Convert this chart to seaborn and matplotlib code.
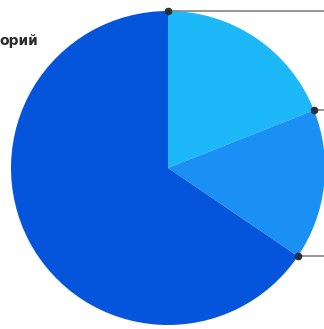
import numpy as np
import seaborn as sns
import matplotlib.pyplot as plt

# доли сегментов (по часовой стрелке от 12 часов)
labels = ['A', 'B', 'C']
shares = [19.0, 15.5, 65.5]
colors = ['#1CB8F8', '#1A90F4', '#0455DB']

sns.set_theme(style='white')
plt.rcParams['font.family'] = ['DejaVu Sans']

W, H = 324, 329
fig = plt.figure(figsize=(W / 100, H / 100), dpi=100)
ax = fig.add_axes([0, 0, 1, 1])

cx, cy, r = 168, H - 168, 157
wedges, _ = ax.pie(shares, colors=colors, startangle=90, counterclock=False,
                   center=(cx, cy), radius=r, frame=True,
                   wedgeprops=dict(linewidth=0))

# выноски из начала каждого сегмента
for w in wedges:
    ang = np.deg2rad(w.theta2)
    px, py = cx + r * np.cos(ang), cy + r * np.sin(ang)
    ax.plot([px, W], [py, py], color='#7a7a7a', lw=1.1, solid_capstyle='butt', zorder=3)
    ax.plot(px, py, 'o', color='#26313d', ms=4.5, zorder=4)

ax.text(-1, H - 41, 'орий', fontsize=10, fontweight='bold', color='#2b2b2b',
        ha='left', va='center')

ax.set_xlim(0, W)
ax.set_ylim(0, H)
ax.set_aspect('equal')
ax.axis('off')

fig.savefig('out.png', dpi=100)
